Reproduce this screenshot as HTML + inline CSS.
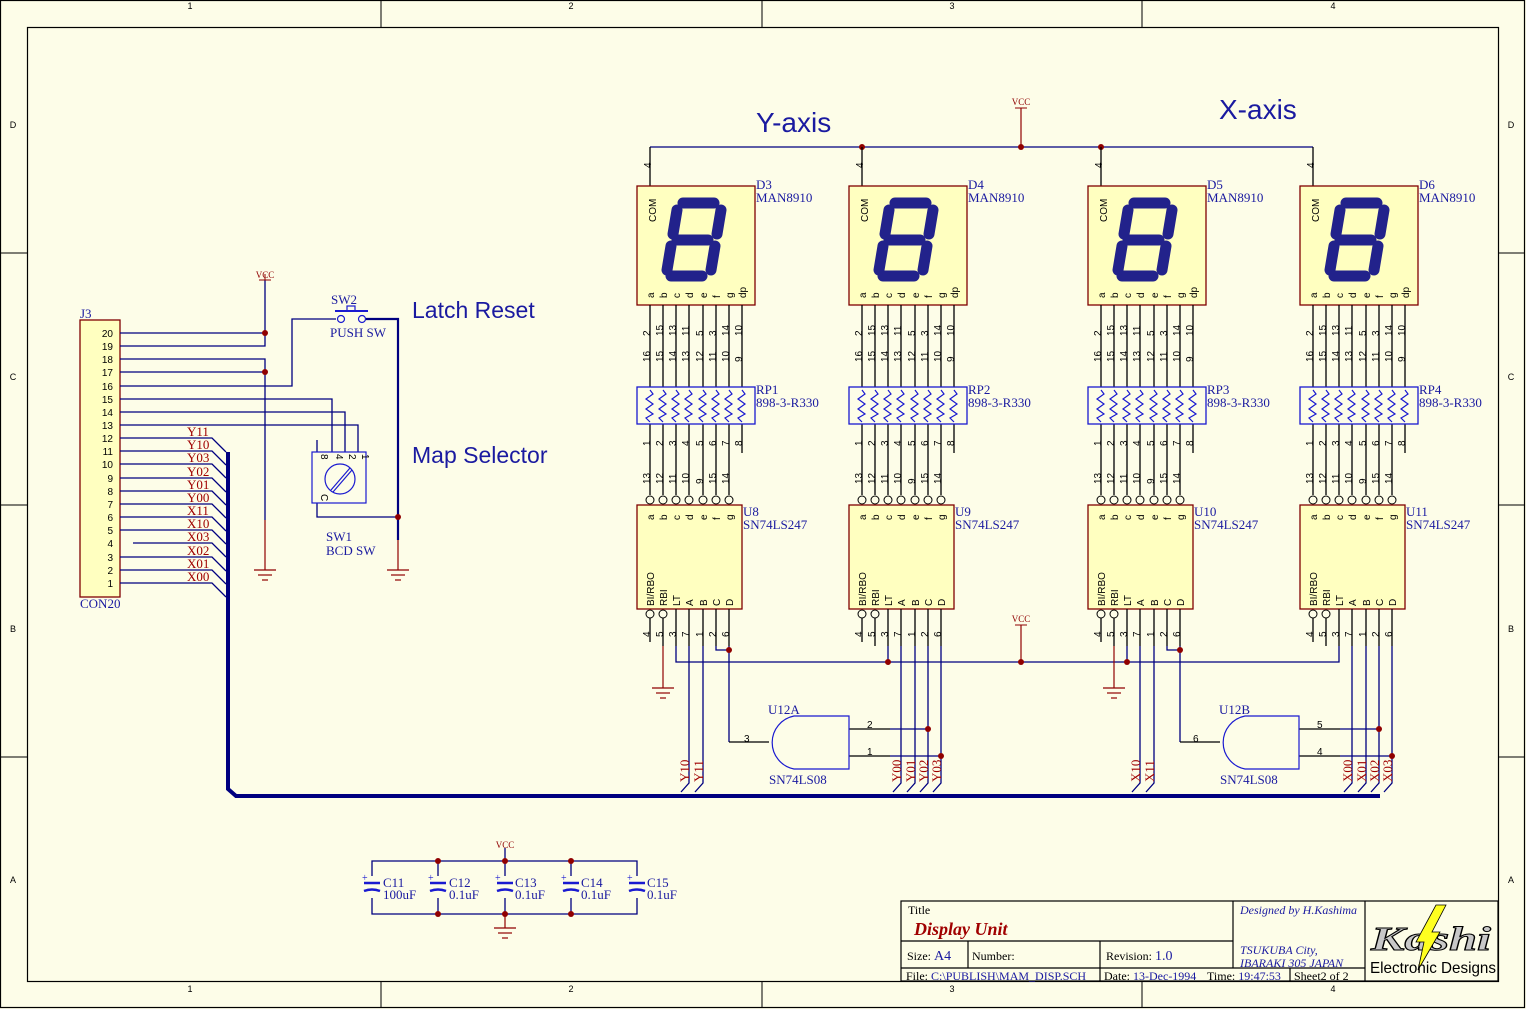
<!DOCTYPE html>
<html><head><meta charset="utf-8"><style>
html,body{margin:0;padding:0;background:#fdfde8;}
svg{display:block;}
text{font-family:"Liberation Serif",serif;}
.s,.s text{font-family:"Liberation Sans",sans-serif;}
.pn,.pn text{font-size:10px;fill:#000;font-family:"Liberation Sans",sans-serif;}
.nm,.nm text{font-size:13px;fill:#1a1aa0;}
.nl,.nl text{font-size:13px;fill:#a00000;}
.w{stroke:#000080;stroke-width:1.3;fill:none;}
.k{stroke:#000;stroke-width:1.3;fill:none;}
.j{fill:#900000;}
</style></head><body>
<svg width="1526" height="1009" viewBox="0 0 1526 1009" xmlns="http://www.w3.org/2000/svg">
<rect x="0" y="0" width="1526" height="1009" fill="#fdfde8"/>
<rect x="0.5" y="0.5" width="1524" height="1007" fill="none" stroke="#000" stroke-width="1.2"/>
<rect x="27.5" y="27.5" width="1471" height="954" fill="none" stroke="#000" stroke-width="1.2"/>
<g stroke="#000" stroke-width="1">
<line x1="381" y1="0" x2="381" y2="27"/><line x1="762" y1="0" x2="762" y2="27"/><line x1="1142" y1="0" x2="1142" y2="27"/>
<line x1="381" y1="981" x2="381" y2="1008"/><line x1="762" y1="981" x2="762" y2="1008"/><line x1="1142" y1="981" x2="1142" y2="1008"/>
<line x1="0" y1="253" x2="27" y2="253"/><line x1="0" y1="505" x2="27" y2="505"/><line x1="0" y1="757" x2="27" y2="757"/>
<line x1="1498" y1="253" x2="1525" y2="253"/><line x1="1498" y1="505" x2="1525" y2="505"/><line x1="1498" y1="757" x2="1525" y2="757"/>
</g>
<g class="s" font-size="9" fill="#000" text-anchor="middle">
<text x="190" y="9">1</text><text x="571" y="9">2</text><text x="952" y="9">3</text><text x="1333" y="9">4</text>
<text x="190" y="992">1</text><text x="571" y="992">2</text><text x="952" y="992">3</text><text x="1333" y="992">4</text>
<text x="13" y="128">D</text><text x="13" y="380">C</text><text x="13" y="632">B</text><text x="13" y="883">A</text>
<text x="1511" y="128">D</text><text x="1511" y="380">C</text><text x="1511" y="632">B</text><text x="1511" y="883">A</text>
</g>

<text x="756" y="132" class="s" font-size="28" fill="#1a1aa0">Y-axis</text>
<text x="1219" y="119" class="s" font-size="28" fill="#1a1aa0">X-axis</text>
<text x="412" y="318" class="s" font-size="23" fill="#1a1aa0">Latch Reset</text>
<text x="412" y="463" class="s" font-size="23" fill="#1a1aa0">Map Selector</text>

<polyline class="w" points="650,147 1313,147"/>
<line x1="1021" y1="147" x2="1021" y2="108" stroke="#900000" stroke-width="1.2"/>
<line x1="1015" y1="108" x2="1027" y2="108" stroke="#900000"/>
<text x="1021" y="105" font-size="9" fill="#900000" text-anchor="middle">VCC</text>
<circle class="j" cx="862" cy="147" r="3"/><circle class="j" cx="1021" cy="147" r="3"/><circle class="j" cx="1101" cy="147" r="3"/>

<g transform="translate(637,186)">
<line class="k" x1="13" y1="0" x2="13" y2="-39"/><text class="pn" transform="translate(14,-18) rotate(-90)">4</text>
<rect x="0" y="0" width="118" height="119" fill="#ffffc0" stroke="#800000" stroke-width="1.3"/>
<g stroke="#22228b" stroke-width="11" stroke-linecap="round" fill="none">
<line x1="46" y1="17" x2="77" y2="17"/><line x1="40" y1="54" x2="71" y2="54"/><line x1="34" y1="90" x2="65" y2="90"/>
<line x1="40" y1="24" x2="36" y2="48"/><line x1="34" y1="60" x2="30" y2="84"/><line x1="84" y1="24" x2="80" y2="48"/><line x1="78" y1="60" x2="74" y2="84"/>
</g>
<g class="pn" font-size="8"><text transform="translate(19,36) rotate(-90)">COM</text>
<text transform="translate(17,112) rotate(-90)">a</text><text transform="translate(30,112) rotate(-90)">b</text><text transform="translate(43,112) rotate(-90)">c</text><text transform="translate(56,112) rotate(-90)">d</text><text transform="translate(70,112) rotate(-90)">e</text><text transform="translate(83,112) rotate(-90)">f</text><text transform="translate(96,112) rotate(-90)">g</text><text transform="translate(109,112) rotate(-90)">dp</text></g>
<g class="k"><line x1="13" y1="119" x2="13" y2="237"/><line x1="26" y1="119" x2="26" y2="237"/><line x1="39" y1="119" x2="39" y2="237"/><line x1="52" y1="119" x2="52" y2="237"/><line x1="66" y1="119" x2="66" y2="237"/><line x1="79" y1="119" x2="79" y2="237"/><line x1="92" y1="119" x2="92" y2="237"/><line x1="105" y1="119" x2="105" y2="237"/>
<line x1="13" y1="237" x2="13" y2="309"/><line x1="26" y1="237" x2="26" y2="309"/><line x1="39" y1="237" x2="39" y2="309"/><line x1="52" y1="237" x2="52" y2="309"/><line x1="66" y1="237" x2="66" y2="309"/><line x1="79" y1="237" x2="79" y2="309"/><line x1="92" y1="237" x2="92" y2="309"/><line x1="105" y1="237" x2="105" y2="267"/></g>
<g class="pn"><text transform="translate(13,150) rotate(-90)">2</text><text transform="translate(26,150) rotate(-90)">15</text><text transform="translate(39,150) rotate(-90)">13</text><text transform="translate(52,150) rotate(-90)">11</text><text transform="translate(66,150) rotate(-90)">5</text><text transform="translate(79,150) rotate(-90)">3</text><text transform="translate(92,150) rotate(-90)">14</text><text transform="translate(105,150) rotate(-90)">10</text>
<text transform="translate(13,176) rotate(-90)">16</text><text transform="translate(26,176) rotate(-90)">15</text><text transform="translate(39,176) rotate(-90)">14</text><text transform="translate(52,176) rotate(-90)">13</text><text transform="translate(66,176) rotate(-90)">12</text><text transform="translate(79,176) rotate(-90)">11</text><text transform="translate(92,176) rotate(-90)">10</text><text transform="translate(105,176) rotate(-90)">9</text>
<text transform="translate(13,260) rotate(-90)">1</text><text transform="translate(26,260) rotate(-90)">2</text><text transform="translate(39,260) rotate(-90)">3</text><text transform="translate(52,260) rotate(-90)">4</text><text transform="translate(66,260) rotate(-90)">5</text><text transform="translate(79,260) rotate(-90)">6</text><text transform="translate(92,260) rotate(-90)">7</text><text transform="translate(105,260) rotate(-90)">8</text>
<text transform="translate(13,298) rotate(-90)">13</text><text transform="translate(26,298) rotate(-90)">12</text><text transform="translate(39,298) rotate(-90)">11</text><text transform="translate(52,298) rotate(-90)">10</text><text transform="translate(66,298) rotate(-90)">9</text><text transform="translate(79,298) rotate(-90)">15</text><text transform="translate(92,298) rotate(-90)">14</text></g>
<rect x="0" y="201" width="118" height="37" fill="#fdfde8" stroke="#1a1ad0" stroke-width="1.3"/>
<g stroke="#1a1ad0" stroke-width="1.2" fill="none">
<polyline points="13,204 16,208 9,213 16,218 9,223 16,228 9,232 13,236"/><polyline points="26,204 29,208 22,213 29,218 22,223 29,228 22,232 26,236"/><polyline points="39,204 42,208 35,213 42,218 35,223 42,228 35,232 39,236"/><polyline points="52,204 55,208 48,213 55,218 48,223 55,228 48,232 52,236"/><polyline points="66,204 69,208 62,213 69,218 62,223 69,228 62,232 66,236"/><polyline points="79,204 82,208 75,213 82,218 75,223 82,228 75,232 79,236"/><polyline points="92,204 95,208 88,213 95,218 88,223 95,228 88,232 92,236"/><polyline points="105,204 108,208 101,213 108,218 101,223 108,228 101,232 105,236"/></g>
<g fill="#fdfde8" stroke="#000" stroke-width="1"><circle cx="13" cy="314" r="4"/><circle cx="26" cy="314" r="4"/><circle cx="39" cy="314" r="4"/><circle cx="52" cy="314" r="4"/><circle cx="66" cy="314" r="4"/><circle cx="79" cy="314" r="4"/><circle cx="92" cy="314" r="4"/>
<circle cx="13" cy="428" r="4"/><circle cx="26" cy="428" r="4"/></g>
<rect x="0" y="319" width="105" height="104" fill="#ffffc0" stroke="#800000" stroke-width="1.3"/>
<g class="pn" font-size="9"><text transform="translate(17,334) rotate(-90)">a</text><text transform="translate(30,334) rotate(-90)">b</text><text transform="translate(43,334) rotate(-90)">c</text><text transform="translate(56,334) rotate(-90)">d</text><text transform="translate(70,334) rotate(-90)">e</text><text transform="translate(83,334) rotate(-90)">f</text><text transform="translate(96,334) rotate(-90)">g</text>
<text transform="translate(17,420) rotate(-90)">BI/RBO</text><text transform="translate(30,420) rotate(-90)">RBI</text><text transform="translate(43,420) rotate(-90)">LT</text><text transform="translate(56,420) rotate(-90)">A</text><text transform="translate(70,420) rotate(-90)">B</text><text transform="translate(83,420) rotate(-90)">C</text><text transform="translate(96,420) rotate(-90)">D</text></g>
<g class="k"><line x1="13" y1="432" x2="13" y2="456"/><line x1="26" y1="432" x2="26" y2="460"/><line x1="39" y1="423" x2="39" y2="460"/><line x1="52" y1="423" x2="52" y2="460"/><line x1="66" y1="423" x2="66" y2="460"/><line x1="79" y1="423" x2="79" y2="460"/><line x1="92" y1="423" x2="92" y2="460"/></g>
<g class="pn"><text transform="translate(13,451) rotate(-90)">4</text><text transform="translate(26,451) rotate(-90)">5</text><text transform="translate(39,451) rotate(-90)">3</text><text transform="translate(52,451) rotate(-90)">7</text><text transform="translate(66,451) rotate(-90)">1</text><text transform="translate(79,451) rotate(-90)">2</text><text transform="translate(92,451) rotate(-90)">6</text></g>
</g>

<g transform="translate(849,186)">
<line class="k" x1="13" y1="0" x2="13" y2="-39"/><text class="pn" transform="translate(14,-18) rotate(-90)">4</text>
<rect x="0" y="0" width="118" height="119" fill="#ffffc0" stroke="#800000" stroke-width="1.3"/>
<g stroke="#22228b" stroke-width="11" stroke-linecap="round" fill="none">
<line x1="46" y1="17" x2="77" y2="17"/><line x1="40" y1="54" x2="71" y2="54"/><line x1="34" y1="90" x2="65" y2="90"/>
<line x1="40" y1="24" x2="36" y2="48"/><line x1="34" y1="60" x2="30" y2="84"/><line x1="84" y1="24" x2="80" y2="48"/><line x1="78" y1="60" x2="74" y2="84"/>
</g>
<g class="pn" font-size="8"><text transform="translate(19,36) rotate(-90)">COM</text>
<text transform="translate(17,112) rotate(-90)">a</text><text transform="translate(30,112) rotate(-90)">b</text><text transform="translate(43,112) rotate(-90)">c</text><text transform="translate(56,112) rotate(-90)">d</text><text transform="translate(70,112) rotate(-90)">e</text><text transform="translate(83,112) rotate(-90)">f</text><text transform="translate(96,112) rotate(-90)">g</text><text transform="translate(109,112) rotate(-90)">dp</text></g>
<g class="k"><line x1="13" y1="119" x2="13" y2="237"/><line x1="26" y1="119" x2="26" y2="237"/><line x1="39" y1="119" x2="39" y2="237"/><line x1="52" y1="119" x2="52" y2="237"/><line x1="66" y1="119" x2="66" y2="237"/><line x1="79" y1="119" x2="79" y2="237"/><line x1="92" y1="119" x2="92" y2="237"/><line x1="105" y1="119" x2="105" y2="237"/>
<line x1="13" y1="237" x2="13" y2="309"/><line x1="26" y1="237" x2="26" y2="309"/><line x1="39" y1="237" x2="39" y2="309"/><line x1="52" y1="237" x2="52" y2="309"/><line x1="66" y1="237" x2="66" y2="309"/><line x1="79" y1="237" x2="79" y2="309"/><line x1="92" y1="237" x2="92" y2="309"/><line x1="105" y1="237" x2="105" y2="267"/></g>
<g class="pn"><text transform="translate(13,150) rotate(-90)">2</text><text transform="translate(26,150) rotate(-90)">15</text><text transform="translate(39,150) rotate(-90)">13</text><text transform="translate(52,150) rotate(-90)">11</text><text transform="translate(66,150) rotate(-90)">5</text><text transform="translate(79,150) rotate(-90)">3</text><text transform="translate(92,150) rotate(-90)">14</text><text transform="translate(105,150) rotate(-90)">10</text>
<text transform="translate(13,176) rotate(-90)">16</text><text transform="translate(26,176) rotate(-90)">15</text><text transform="translate(39,176) rotate(-90)">14</text><text transform="translate(52,176) rotate(-90)">13</text><text transform="translate(66,176) rotate(-90)">12</text><text transform="translate(79,176) rotate(-90)">11</text><text transform="translate(92,176) rotate(-90)">10</text><text transform="translate(105,176) rotate(-90)">9</text>
<text transform="translate(13,260) rotate(-90)">1</text><text transform="translate(26,260) rotate(-90)">2</text><text transform="translate(39,260) rotate(-90)">3</text><text transform="translate(52,260) rotate(-90)">4</text><text transform="translate(66,260) rotate(-90)">5</text><text transform="translate(79,260) rotate(-90)">6</text><text transform="translate(92,260) rotate(-90)">7</text><text transform="translate(105,260) rotate(-90)">8</text>
<text transform="translate(13,298) rotate(-90)">13</text><text transform="translate(26,298) rotate(-90)">12</text><text transform="translate(39,298) rotate(-90)">11</text><text transform="translate(52,298) rotate(-90)">10</text><text transform="translate(66,298) rotate(-90)">9</text><text transform="translate(79,298) rotate(-90)">15</text><text transform="translate(92,298) rotate(-90)">14</text></g>
<rect x="0" y="201" width="118" height="37" fill="#fdfde8" stroke="#1a1ad0" stroke-width="1.3"/>
<g stroke="#1a1ad0" stroke-width="1.2" fill="none">
<polyline points="13,204 16,208 9,213 16,218 9,223 16,228 9,232 13,236"/><polyline points="26,204 29,208 22,213 29,218 22,223 29,228 22,232 26,236"/><polyline points="39,204 42,208 35,213 42,218 35,223 42,228 35,232 39,236"/><polyline points="52,204 55,208 48,213 55,218 48,223 55,228 48,232 52,236"/><polyline points="66,204 69,208 62,213 69,218 62,223 69,228 62,232 66,236"/><polyline points="79,204 82,208 75,213 82,218 75,223 82,228 75,232 79,236"/><polyline points="92,204 95,208 88,213 95,218 88,223 95,228 88,232 92,236"/><polyline points="105,204 108,208 101,213 108,218 101,223 108,228 101,232 105,236"/></g>
<g fill="#fdfde8" stroke="#000" stroke-width="1"><circle cx="13" cy="314" r="4"/><circle cx="26" cy="314" r="4"/><circle cx="39" cy="314" r="4"/><circle cx="52" cy="314" r="4"/><circle cx="66" cy="314" r="4"/><circle cx="79" cy="314" r="4"/><circle cx="92" cy="314" r="4"/>
<circle cx="13" cy="428" r="4"/><circle cx="26" cy="428" r="4"/></g>
<rect x="0" y="319" width="105" height="104" fill="#ffffc0" stroke="#800000" stroke-width="1.3"/>
<g class="pn" font-size="9"><text transform="translate(17,334) rotate(-90)">a</text><text transform="translate(30,334) rotate(-90)">b</text><text transform="translate(43,334) rotate(-90)">c</text><text transform="translate(56,334) rotate(-90)">d</text><text transform="translate(70,334) rotate(-90)">e</text><text transform="translate(83,334) rotate(-90)">f</text><text transform="translate(96,334) rotate(-90)">g</text>
<text transform="translate(17,420) rotate(-90)">BI/RBO</text><text transform="translate(30,420) rotate(-90)">RBI</text><text transform="translate(43,420) rotate(-90)">LT</text><text transform="translate(56,420) rotate(-90)">A</text><text transform="translate(70,420) rotate(-90)">B</text><text transform="translate(83,420) rotate(-90)">C</text><text transform="translate(96,420) rotate(-90)">D</text></g>
<g class="k"><line x1="13" y1="432" x2="13" y2="456"/><line x1="26" y1="432" x2="26" y2="460"/><line x1="39" y1="423" x2="39" y2="460"/><line x1="52" y1="423" x2="52" y2="460"/><line x1="66" y1="423" x2="66" y2="460"/><line x1="79" y1="423" x2="79" y2="460"/><line x1="92" y1="423" x2="92" y2="460"/></g>
<g class="pn"><text transform="translate(13,451) rotate(-90)">4</text><text transform="translate(26,451) rotate(-90)">5</text><text transform="translate(39,451) rotate(-90)">3</text><text transform="translate(52,451) rotate(-90)">7</text><text transform="translate(66,451) rotate(-90)">1</text><text transform="translate(79,451) rotate(-90)">2</text><text transform="translate(92,451) rotate(-90)">6</text></g>
</g>

<g transform="translate(1088,186)">
<line class="k" x1="13" y1="0" x2="13" y2="-39"/><text class="pn" transform="translate(14,-18) rotate(-90)">4</text>
<rect x="0" y="0" width="118" height="119" fill="#ffffc0" stroke="#800000" stroke-width="1.3"/>
<g stroke="#22228b" stroke-width="11" stroke-linecap="round" fill="none">
<line x1="46" y1="17" x2="77" y2="17"/><line x1="40" y1="54" x2="71" y2="54"/><line x1="34" y1="90" x2="65" y2="90"/>
<line x1="40" y1="24" x2="36" y2="48"/><line x1="34" y1="60" x2="30" y2="84"/><line x1="84" y1="24" x2="80" y2="48"/><line x1="78" y1="60" x2="74" y2="84"/>
</g>
<g class="pn" font-size="8"><text transform="translate(19,36) rotate(-90)">COM</text>
<text transform="translate(17,112) rotate(-90)">a</text><text transform="translate(30,112) rotate(-90)">b</text><text transform="translate(43,112) rotate(-90)">c</text><text transform="translate(56,112) rotate(-90)">d</text><text transform="translate(70,112) rotate(-90)">e</text><text transform="translate(83,112) rotate(-90)">f</text><text transform="translate(96,112) rotate(-90)">g</text><text transform="translate(109,112) rotate(-90)">dp</text></g>
<g class="k"><line x1="13" y1="119" x2="13" y2="237"/><line x1="26" y1="119" x2="26" y2="237"/><line x1="39" y1="119" x2="39" y2="237"/><line x1="52" y1="119" x2="52" y2="237"/><line x1="66" y1="119" x2="66" y2="237"/><line x1="79" y1="119" x2="79" y2="237"/><line x1="92" y1="119" x2="92" y2="237"/><line x1="105" y1="119" x2="105" y2="237"/>
<line x1="13" y1="237" x2="13" y2="309"/><line x1="26" y1="237" x2="26" y2="309"/><line x1="39" y1="237" x2="39" y2="309"/><line x1="52" y1="237" x2="52" y2="309"/><line x1="66" y1="237" x2="66" y2="309"/><line x1="79" y1="237" x2="79" y2="309"/><line x1="92" y1="237" x2="92" y2="309"/><line x1="105" y1="237" x2="105" y2="267"/></g>
<g class="pn"><text transform="translate(13,150) rotate(-90)">2</text><text transform="translate(26,150) rotate(-90)">15</text><text transform="translate(39,150) rotate(-90)">13</text><text transform="translate(52,150) rotate(-90)">11</text><text transform="translate(66,150) rotate(-90)">5</text><text transform="translate(79,150) rotate(-90)">3</text><text transform="translate(92,150) rotate(-90)">14</text><text transform="translate(105,150) rotate(-90)">10</text>
<text transform="translate(13,176) rotate(-90)">16</text><text transform="translate(26,176) rotate(-90)">15</text><text transform="translate(39,176) rotate(-90)">14</text><text transform="translate(52,176) rotate(-90)">13</text><text transform="translate(66,176) rotate(-90)">12</text><text transform="translate(79,176) rotate(-90)">11</text><text transform="translate(92,176) rotate(-90)">10</text><text transform="translate(105,176) rotate(-90)">9</text>
<text transform="translate(13,260) rotate(-90)">1</text><text transform="translate(26,260) rotate(-90)">2</text><text transform="translate(39,260) rotate(-90)">3</text><text transform="translate(52,260) rotate(-90)">4</text><text transform="translate(66,260) rotate(-90)">5</text><text transform="translate(79,260) rotate(-90)">6</text><text transform="translate(92,260) rotate(-90)">7</text><text transform="translate(105,260) rotate(-90)">8</text>
<text transform="translate(13,298) rotate(-90)">13</text><text transform="translate(26,298) rotate(-90)">12</text><text transform="translate(39,298) rotate(-90)">11</text><text transform="translate(52,298) rotate(-90)">10</text><text transform="translate(66,298) rotate(-90)">9</text><text transform="translate(79,298) rotate(-90)">15</text><text transform="translate(92,298) rotate(-90)">14</text></g>
<rect x="0" y="201" width="118" height="37" fill="#fdfde8" stroke="#1a1ad0" stroke-width="1.3"/>
<g stroke="#1a1ad0" stroke-width="1.2" fill="none">
<polyline points="13,204 16,208 9,213 16,218 9,223 16,228 9,232 13,236"/><polyline points="26,204 29,208 22,213 29,218 22,223 29,228 22,232 26,236"/><polyline points="39,204 42,208 35,213 42,218 35,223 42,228 35,232 39,236"/><polyline points="52,204 55,208 48,213 55,218 48,223 55,228 48,232 52,236"/><polyline points="66,204 69,208 62,213 69,218 62,223 69,228 62,232 66,236"/><polyline points="79,204 82,208 75,213 82,218 75,223 82,228 75,232 79,236"/><polyline points="92,204 95,208 88,213 95,218 88,223 95,228 88,232 92,236"/><polyline points="105,204 108,208 101,213 108,218 101,223 108,228 101,232 105,236"/></g>
<g fill="#fdfde8" stroke="#000" stroke-width="1"><circle cx="13" cy="314" r="4"/><circle cx="26" cy="314" r="4"/><circle cx="39" cy="314" r="4"/><circle cx="52" cy="314" r="4"/><circle cx="66" cy="314" r="4"/><circle cx="79" cy="314" r="4"/><circle cx="92" cy="314" r="4"/>
<circle cx="13" cy="428" r="4"/><circle cx="26" cy="428" r="4"/></g>
<rect x="0" y="319" width="105" height="104" fill="#ffffc0" stroke="#800000" stroke-width="1.3"/>
<g class="pn" font-size="9"><text transform="translate(17,334) rotate(-90)">a</text><text transform="translate(30,334) rotate(-90)">b</text><text transform="translate(43,334) rotate(-90)">c</text><text transform="translate(56,334) rotate(-90)">d</text><text transform="translate(70,334) rotate(-90)">e</text><text transform="translate(83,334) rotate(-90)">f</text><text transform="translate(96,334) rotate(-90)">g</text>
<text transform="translate(17,420) rotate(-90)">BI/RBO</text><text transform="translate(30,420) rotate(-90)">RBI</text><text transform="translate(43,420) rotate(-90)">LT</text><text transform="translate(56,420) rotate(-90)">A</text><text transform="translate(70,420) rotate(-90)">B</text><text transform="translate(83,420) rotate(-90)">C</text><text transform="translate(96,420) rotate(-90)">D</text></g>
<g class="k"><line x1="13" y1="432" x2="13" y2="456"/><line x1="26" y1="432" x2="26" y2="460"/><line x1="39" y1="423" x2="39" y2="460"/><line x1="52" y1="423" x2="52" y2="460"/><line x1="66" y1="423" x2="66" y2="460"/><line x1="79" y1="423" x2="79" y2="460"/><line x1="92" y1="423" x2="92" y2="460"/></g>
<g class="pn"><text transform="translate(13,451) rotate(-90)">4</text><text transform="translate(26,451) rotate(-90)">5</text><text transform="translate(39,451) rotate(-90)">3</text><text transform="translate(52,451) rotate(-90)">7</text><text transform="translate(66,451) rotate(-90)">1</text><text transform="translate(79,451) rotate(-90)">2</text><text transform="translate(92,451) rotate(-90)">6</text></g>
</g>

<g transform="translate(1300,186)">
<line class="k" x1="13" y1="0" x2="13" y2="-39"/><text class="pn" transform="translate(14,-18) rotate(-90)">4</text>
<rect x="0" y="0" width="118" height="119" fill="#ffffc0" stroke="#800000" stroke-width="1.3"/>
<g stroke="#22228b" stroke-width="11" stroke-linecap="round" fill="none">
<line x1="46" y1="17" x2="77" y2="17"/><line x1="40" y1="54" x2="71" y2="54"/><line x1="34" y1="90" x2="65" y2="90"/>
<line x1="40" y1="24" x2="36" y2="48"/><line x1="34" y1="60" x2="30" y2="84"/><line x1="84" y1="24" x2="80" y2="48"/><line x1="78" y1="60" x2="74" y2="84"/>
</g>
<g class="pn" font-size="8"><text transform="translate(19,36) rotate(-90)">COM</text>
<text transform="translate(17,112) rotate(-90)">a</text><text transform="translate(30,112) rotate(-90)">b</text><text transform="translate(43,112) rotate(-90)">c</text><text transform="translate(56,112) rotate(-90)">d</text><text transform="translate(70,112) rotate(-90)">e</text><text transform="translate(83,112) rotate(-90)">f</text><text transform="translate(96,112) rotate(-90)">g</text><text transform="translate(109,112) rotate(-90)">dp</text></g>
<g class="k"><line x1="13" y1="119" x2="13" y2="237"/><line x1="26" y1="119" x2="26" y2="237"/><line x1="39" y1="119" x2="39" y2="237"/><line x1="52" y1="119" x2="52" y2="237"/><line x1="66" y1="119" x2="66" y2="237"/><line x1="79" y1="119" x2="79" y2="237"/><line x1="92" y1="119" x2="92" y2="237"/><line x1="105" y1="119" x2="105" y2="237"/>
<line x1="13" y1="237" x2="13" y2="309"/><line x1="26" y1="237" x2="26" y2="309"/><line x1="39" y1="237" x2="39" y2="309"/><line x1="52" y1="237" x2="52" y2="309"/><line x1="66" y1="237" x2="66" y2="309"/><line x1="79" y1="237" x2="79" y2="309"/><line x1="92" y1="237" x2="92" y2="309"/><line x1="105" y1="237" x2="105" y2="267"/></g>
<g class="pn"><text transform="translate(13,150) rotate(-90)">2</text><text transform="translate(26,150) rotate(-90)">15</text><text transform="translate(39,150) rotate(-90)">13</text><text transform="translate(52,150) rotate(-90)">11</text><text transform="translate(66,150) rotate(-90)">5</text><text transform="translate(79,150) rotate(-90)">3</text><text transform="translate(92,150) rotate(-90)">14</text><text transform="translate(105,150) rotate(-90)">10</text>
<text transform="translate(13,176) rotate(-90)">16</text><text transform="translate(26,176) rotate(-90)">15</text><text transform="translate(39,176) rotate(-90)">14</text><text transform="translate(52,176) rotate(-90)">13</text><text transform="translate(66,176) rotate(-90)">12</text><text transform="translate(79,176) rotate(-90)">11</text><text transform="translate(92,176) rotate(-90)">10</text><text transform="translate(105,176) rotate(-90)">9</text>
<text transform="translate(13,260) rotate(-90)">1</text><text transform="translate(26,260) rotate(-90)">2</text><text transform="translate(39,260) rotate(-90)">3</text><text transform="translate(52,260) rotate(-90)">4</text><text transform="translate(66,260) rotate(-90)">5</text><text transform="translate(79,260) rotate(-90)">6</text><text transform="translate(92,260) rotate(-90)">7</text><text transform="translate(105,260) rotate(-90)">8</text>
<text transform="translate(13,298) rotate(-90)">13</text><text transform="translate(26,298) rotate(-90)">12</text><text transform="translate(39,298) rotate(-90)">11</text><text transform="translate(52,298) rotate(-90)">10</text><text transform="translate(66,298) rotate(-90)">9</text><text transform="translate(79,298) rotate(-90)">15</text><text transform="translate(92,298) rotate(-90)">14</text></g>
<rect x="0" y="201" width="118" height="37" fill="#fdfde8" stroke="#1a1ad0" stroke-width="1.3"/>
<g stroke="#1a1ad0" stroke-width="1.2" fill="none">
<polyline points="13,204 16,208 9,213 16,218 9,223 16,228 9,232 13,236"/><polyline points="26,204 29,208 22,213 29,218 22,223 29,228 22,232 26,236"/><polyline points="39,204 42,208 35,213 42,218 35,223 42,228 35,232 39,236"/><polyline points="52,204 55,208 48,213 55,218 48,223 55,228 48,232 52,236"/><polyline points="66,204 69,208 62,213 69,218 62,223 69,228 62,232 66,236"/><polyline points="79,204 82,208 75,213 82,218 75,223 82,228 75,232 79,236"/><polyline points="92,204 95,208 88,213 95,218 88,223 95,228 88,232 92,236"/><polyline points="105,204 108,208 101,213 108,218 101,223 108,228 101,232 105,236"/></g>
<g fill="#fdfde8" stroke="#000" stroke-width="1"><circle cx="13" cy="314" r="4"/><circle cx="26" cy="314" r="4"/><circle cx="39" cy="314" r="4"/><circle cx="52" cy="314" r="4"/><circle cx="66" cy="314" r="4"/><circle cx="79" cy="314" r="4"/><circle cx="92" cy="314" r="4"/>
<circle cx="13" cy="428" r="4"/><circle cx="26" cy="428" r="4"/></g>
<rect x="0" y="319" width="105" height="104" fill="#ffffc0" stroke="#800000" stroke-width="1.3"/>
<g class="pn" font-size="9"><text transform="translate(17,334) rotate(-90)">a</text><text transform="translate(30,334) rotate(-90)">b</text><text transform="translate(43,334) rotate(-90)">c</text><text transform="translate(56,334) rotate(-90)">d</text><text transform="translate(70,334) rotate(-90)">e</text><text transform="translate(83,334) rotate(-90)">f</text><text transform="translate(96,334) rotate(-90)">g</text>
<text transform="translate(17,420) rotate(-90)">BI/RBO</text><text transform="translate(30,420) rotate(-90)">RBI</text><text transform="translate(43,420) rotate(-90)">LT</text><text transform="translate(56,420) rotate(-90)">A</text><text transform="translate(70,420) rotate(-90)">B</text><text transform="translate(83,420) rotate(-90)">C</text><text transform="translate(96,420) rotate(-90)">D</text></g>
<g class="k"><line x1="13" y1="432" x2="13" y2="456"/><line x1="26" y1="432" x2="26" y2="460"/><line x1="39" y1="423" x2="39" y2="460"/><line x1="52" y1="423" x2="52" y2="460"/><line x1="66" y1="423" x2="66" y2="460"/><line x1="79" y1="423" x2="79" y2="460"/><line x1="92" y1="423" x2="92" y2="460"/></g>
<g class="pn"><text transform="translate(13,451) rotate(-90)">4</text><text transform="translate(26,451) rotate(-90)">5</text><text transform="translate(39,451) rotate(-90)">3</text><text transform="translate(52,451) rotate(-90)">7</text><text transform="translate(66,451) rotate(-90)">1</text><text transform="translate(79,451) rotate(-90)">2</text><text transform="translate(92,451) rotate(-90)">6</text></g>
</g>

<g class="nm">
<text x="756" y="189">D3</text><text x="756" y="202">MAN8910</text>
<text x="968" y="189">D4</text><text x="968" y="202">MAN8910</text>
<text x="1207" y="189">D5</text><text x="1207" y="202">MAN8910</text>
<text x="1419" y="189">D6</text><text x="1419" y="202">MAN8910</text>
<text x="756" y="394">RP1</text><text x="756" y="407">898-3-R330</text>
<text x="968" y="394">RP2</text><text x="968" y="407">898-3-R330</text>
<text x="1207" y="394">RP3</text><text x="1207" y="407">898-3-R330</text>
<text x="1419" y="394">RP4</text><text x="1419" y="407">898-3-R330</text>
<text x="743" y="516">U8</text><text x="743" y="529">SN74LS247</text>
<text x="955" y="516">U9</text><text x="955" y="529">SN74LS247</text>
<text x="1194" y="516">U10</text><text x="1194" y="529">SN74LS247</text>
<text x="1406" y="516">U11</text><text x="1406" y="529">SN74LS247</text>
</g>

<polyline class="w" points="676,646 676,662 1339,662 1339,646"/>
<line class="w" x1="888" y1="646" x2="888" y2="662"/><line class="w" x1="1127" y1="646" x2="1127" y2="662"/>
<line x1="1021" y1="625" x2="1021" y2="662" stroke="#900000" stroke-width="1.2"/><line x1="1015" y1="625" x2="1027" y2="625" stroke="#900000"/>
<text x="1021" y="622" font-size="9" fill="#900000" text-anchor="middle">VCC</text>
<circle class="j" cx="888" cy="662" r="3"/><circle class="j" cx="1021" cy="662" r="3"/><circle class="j" cx="1127" cy="662" r="3"/>

<g stroke="#900000" stroke-width="1.2">
<line x1="663" y1="646" x2="663" y2="688"/><line x1="652" y1="688" x2="674" y2="688"/><line x1="656" y1="693" x2="670" y2="693"/><line x1="660" y1="698" x2="666" y2="698"/>
<line x1="1114" y1="646" x2="1114" y2="688"/><line x1="1103" y1="688" x2="1125" y2="688"/><line x1="1107" y1="693" x2="1121" y2="693"/><line x1="1111" y1="698" x2="1117" y2="698"/>
<line x1="265" y1="520" x2="265" y2="570"/><line x1="254" y1="570" x2="276" y2="570"/><line x1="258" y1="575" x2="272" y2="575"/><line x1="262" y1="580" x2="268" y2="580"/>
<line x1="398" y1="540" x2="398" y2="570"/><line x1="387" y1="570" x2="409" y2="570"/><line x1="391" y1="575" x2="405" y2="575"/><line x1="395" y1="580" x2="401" y2="580"/>
<line x1="505" y1="914" x2="505" y2="928"/><line x1="494" y1="928" x2="516" y2="928"/><line x1="498" y1="933" x2="512" y2="933"/><line x1="502" y1="938" x2="508" y2="938"/>
</g>

<g class="w">
<polyline points="689,646 689,783 681,792"/><polyline points="703,646 703,783 695,792"/>
<polyline points="716,646 716,650 729,650"/><polyline points="729,646 729,742"/>
<polyline points="901,646 901,783 893,792"/><polyline points="915,646 915,783 907,792"/><polyline points="928,646 928,783 920,792"/><polyline points="941,646 941,783 933,792"/>
<polyline points="1140,646 1140,783 1132,792"/><polyline points="1154,646 1154,783 1146,792"/>
<polyline points="1167,646 1167,650 1180,650"/><polyline points="1180,646 1180,742"/>
<polyline points="1352,646 1352,783 1344,792"/><polyline points="1366,646 1366,783 1358,792"/><polyline points="1379,646 1379,783 1371,792"/><polyline points="1392,646 1392,783 1384,792"/>
</g>
<g class="k"><line x1="729" y1="742" x2="769" y2="742"/><line x1="849" y1="729" x2="890" y2="729"/><line x1="849" y1="756" x2="890" y2="756"/>
<line x1="1180" y1="742" x2="1220" y2="742"/><line x1="1299" y1="729" x2="1340" y2="729"/><line x1="1299" y1="756" x2="1340" y2="756"/></g>
<g class="w"><line x1="890" y1="729" x2="928" y2="729"/><line x1="890" y1="756" x2="941" y2="756"/><line x1="1340" y1="729" x2="1379" y2="729"/><line x1="1340" y1="756" x2="1392" y2="756"/></g>
<path d="M794,716 A27,27 0 0 0 794,769 L849,769 L849,716 Z" fill="none" stroke="#1a1ad0" stroke-width="1.2"/>
<path d="M1245,716 A27,27 0 0 0 1245,769 L1299,769 L1299,716 Z" fill="none" stroke="#1a1ad0" stroke-width="1.2"/>
<g class="pn" font-size="10"><text x="744" y="742">3</text><text x="867" y="728">2</text><text x="867" y="755">1</text><text x="1193" y="742">6</text><text x="1317" y="728">5</text><text x="1317" y="755">4</text></g>
<g class="nm"><text x="768" y="714">U12A</text><text x="769" y="784">SN74LS08</text><text x="1219" y="714">U12B</text><text x="1220" y="784">SN74LS08</text></g>
<g class="j"><circle cx="729" cy="650" r="3"/><circle cx="928" cy="729" r="3"/><circle cx="941" cy="756" r="3"/><circle cx="1180" cy="650" r="3"/><circle cx="1379" cy="729" r="3"/><circle cx="1392" cy="756" r="3"/></g>
<g class="nl" font-size="12">
<text transform="translate(689,782) rotate(-90)">Y10</text><text transform="translate(703,782) rotate(-90)">Y11</text>
<text transform="translate(901,782) rotate(-90)">Y00</text><text transform="translate(915,782) rotate(-90)">Y01</text><text transform="translate(928,782) rotate(-90)">Y02</text><text transform="translate(941,782) rotate(-90)">Y03</text>
<text transform="translate(1140,782) rotate(-90)">X10</text><text transform="translate(1154,782) rotate(-90)">X11</text>
<text transform="translate(1352,782) rotate(-90)">X00</text><text transform="translate(1366,782) rotate(-90)">X01</text><text transform="translate(1379,782) rotate(-90)">X02</text><text transform="translate(1392,782) rotate(-90)">X03</text>
</g>

<polyline points="228,452 228,789 236,796 1380,796" fill="none" stroke="#000080" stroke-width="4"/>

<rect x="80" y="320" width="40" height="277" fill="#ffffc0" stroke="#800000" stroke-width="1.3"/>
<text x="80" y="318" class="nm" font-size="12">J3</text><text x="80" y="608" class="nm">CON20</text>
<g class="pn" text-anchor="end">
<text x="113" y="337">20</text><text x="113" y="350">19</text><text x="113" y="363">18</text><text x="113" y="376">17</text><text x="113" y="390">16</text><text x="113" y="403">15</text><text x="113" y="416">14</text><text x="113" y="429">13</text><text x="113" y="442">12</text><text x="113" y="455">11</text><text x="113" y="468">10</text><text x="113" y="482">9</text><text x="113" y="495">8</text><text x="113" y="508">7</text><text x="113" y="521">6</text><text x="113" y="534">5</text><text x="113" y="547">4</text><text x="113" y="561">3</text><text x="113" y="574">2</text><text x="113" y="587">1</text>
</g>
<g class="w">
<polyline points="120,333 265,333"/><polyline points="120,346 265,346 265,280"/>
<polyline points="120,359 265,359 265,520"/><polyline points="120,372 265,372"/>
<polyline points="120,386 292,386 292,319 336,319"/>
<polyline points="120,399 332,399 332,452"/><polyline points="120,412 345,412 345,452"/><polyline points="120,425 358,425 358,452"/>
<polyline points="317,440 317,452"/><polyline points="317,503 317,517 398,517"/>
<polyline points="120,438 212,438 226,452"/><polyline points="120,451 212,451 226,465"/><polyline points="120,464 212,464 226,478"/><polyline points="120,478 212,478 226,492"/><polyline points="120,491 212,491 226,505"/><polyline points="120,504 212,504 226,518"/><polyline points="120,517 212,517 226,531"/><polyline points="120,530 212,530 226,544"/><polyline points="133,543 212,543 226,557"/><polyline points="120,557 212,557 226,571"/><polyline points="120,570 212,570 226,584"/><polyline points="120,583 212,583 226,597"/>
</g>
<polyline points="366,319 398,319 398,540" fill="none" stroke="#000080" stroke-width="2.2"/>
<line x1="265" y1="280" x2="265" y2="274" stroke="#900000"/><line x1="259" y1="280" x2="271" y2="280" stroke="#900000"/>
<text x="265" y="278" font-size="9" fill="#900000" text-anchor="middle">VCC</text>
<g class="j"><circle cx="265" cy="333" r="3"/><circle cx="265" cy="372" r="3"/><circle cx="398" cy="517" r="3"/></g>
<g class="nl">
<text x="187" y="436">Y11</text><text x="187" y="449">Y10</text><text x="187" y="462">Y03</text><text x="187" y="476">Y02</text><text x="187" y="489">Y01</text><text x="187" y="502">Y00</text><text x="187" y="515">X11</text><text x="187" y="528">X10</text><text x="187" y="541">X03</text><text x="187" y="555">X02</text><text x="187" y="568">X01</text><text x="187" y="581">X00</text>
</g>
<g stroke="#1a1ad0" stroke-width="1.2" fill="none"><circle cx="341" cy="319" r="3.5"/><circle cx="362" cy="319" r="3.5"/>
<line x1="335" y1="311" x2="368" y2="311" stroke-width="2"/><rect x="347" y="306" width="8" height="5"/></g>
<text x="331" y="304" class="nm">SW2</text><text x="330" y="337" class="nm">PUSH SW</text>
<rect x="312" y="452" width="54" height="51" fill="none" stroke="#1a1ad0" stroke-width="1.2"/>
<circle cx="340" cy="479" r="15" fill="none" stroke="#1a1ad0" stroke-width="1.2"/>
<line x1="331" y1="490" x2="350" y2="468" stroke="#1a1ad0" stroke-width="1.2"/><line x1="333" y1="492" x2="352" y2="470" stroke="#1a1ad0" stroke-width="1.2"/>
<g class="pn" font-size="9"><text transform="translate(321,454) rotate(90)">8</text><text transform="translate(336,454) rotate(90)">4</text><text transform="translate(349,454) rotate(90)">2</text><text transform="translate(362,454) rotate(90)">1</text><text transform="translate(321,494) rotate(90)">C</text></g>
<text x="326" y="541" class="nm">SW1</text><text x="326" y="555" class="nm">BCD SW</text>

<g class="w"><polyline points="372,876 372,861 637,861 637,876"/><polyline points="372,898 372,914 637,914 637,898"/>
<line x1="438" y1="861" x2="438" y2="876"/><line x1="438" y1="898" x2="438" y2="914"/><line x1="505" y1="861" x2="505" y2="876"/><line x1="505" y1="898" x2="505" y2="914"/><line x1="571" y1="861" x2="571" y2="876"/><line x1="571" y1="898" x2="571" y2="914"/><line x1="505" y1="861" x2="505" y2="848"/></g>
<text x="505" y="848" font-size="9" fill="#900000" text-anchor="middle">VCC</text>
<g stroke="#1a1ad0" stroke-width="2.5" fill="none">
<line x1="364" y1="883" x2="380" y2="883"/><path d="M364,891 Q372,888 380,891"/><line x1="430" y1="883" x2="446" y2="883"/><path d="M430,891 Q438,888 446,891"/><line x1="497" y1="883" x2="513" y2="883"/><path d="M497,891 Q505,888 513,891"/><line x1="563" y1="883" x2="579" y2="883"/><path d="M563,891 Q571,888 579,891"/><line x1="629" y1="883" x2="645" y2="883"/><path d="M629,891 Q637,888 645,891"/>
</g>
<g font-size="10" fill="#1a1ad0"><text x="362" y="881">+</text><text x="428" y="881">+</text><text x="495" y="881">+</text><text x="561" y="881">+</text><text x="627" y="881">+</text></g>
<g class="nm"><text x="383" y="887">C11</text><text x="383" y="899">100uF</text><text x="449" y="887">C12</text><text x="449" y="899">0.1uF</text><text x="515" y="887">C13</text><text x="515" y="899">0.1uF</text><text x="581" y="887">C14</text><text x="581" y="899">0.1uF</text><text x="647" y="887">C15</text><text x="647" y="899">0.1uF</text></g>
<g class="j"><circle cx="438" cy="861" r="3"/><circle cx="505" cy="861" r="3"/><circle cx="571" cy="861" r="3"/><circle cx="438" cy="914" r="3"/><circle cx="505" cy="914" r="3"/><circle cx="571" cy="914" r="3"/></g>

<g stroke="#000" stroke-width="1.2" fill="none">
<rect x="901" y="901" width="597" height="80"/>
<line x1="901" y1="941" x2="1233" y2="941"/><line x1="901" y1="968" x2="1365" y2="968"/>
<line x1="1233" y1="901" x2="1233" y2="968"/><line x1="1365" y1="901" x2="1365" y2="981"/>
<line x1="968" y1="941" x2="968" y2="968"/><line x1="1100" y1="941" x2="1100" y2="981"/><line x1="1290" y1="968" x2="1290" y2="981"/>
</g>
<text x="908" y="914" font-size="12" fill="#000">Title</text>
<text x="914" y="935" font-size="18" font-weight="bold" font-style="italic" fill="#a00000">Display Unit</text>
<text x="907" y="960" font-size="12" fill="#000">Size: <tspan fill="#1a1aa0" font-size="14">A4</tspan></text>
<text x="972" y="960" font-size="12" fill="#000">Number:</text>
<text x="1106" y="960" font-size="12" fill="#000">Revision: <tspan fill="#1a1aa0" font-size="14">1.0</tspan></text>
<text x="906" y="980" font-size="12" fill="#000">File: <tspan fill="#1a1aa0">C:\PUBLISH\MAM_DISP.SCH</tspan></text>
<text x="1104" y="980" font-size="12" fill="#000">Date: <tspan fill="#1a1aa0">13-Dec-1994</tspan></text>
<text x="1207" y="980" font-size="12" fill="#000">Time: <tspan fill="#1a1aa0">19:47:53</tspan></text>
<text x="1294" y="980" font-size="12" fill="#000">Sheet2   of 2</text>
<text x="1240" y="914" font-size="12" font-style="italic" fill="#1a1aa0">Designed by  H.Kashima</text>
<text x="1240" y="954" font-size="12" font-style="italic" fill="#1a1aa0">TSUKUBA City,</text>
<text x="1240" y="967" font-size="12" font-style="italic" fill="#1a1aa0">IBARAKI 305 JAPAN</text>
<text x="1371" y="950" font-size="34" font-weight="bold" font-style="italic" fill="#c8c8c8" stroke="#000" stroke-width="1" textLength="120" lengthAdjust="spacingAndGlyphs">Kashi</text>
<polygon points="1436,905 1446,905 1432,932 1440,932 1418,970 1424,942 1416,942" fill="#ffff20" stroke="#000" stroke-width="0.8"/>
<text x="1370" y="973" class="s" font-size="16" fill="#000" textLength="126" lengthAdjust="spacingAndGlyphs">Electronic Designs</text>
</svg>
</body></html>
